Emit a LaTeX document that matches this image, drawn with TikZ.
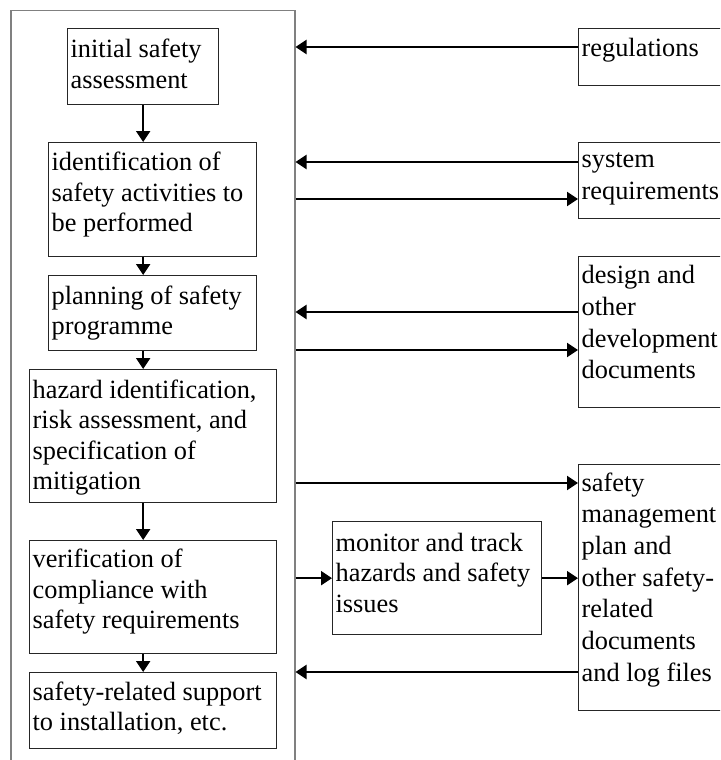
\documentclass[tikz,border=0pt]{standalone}
\usepackage{fontspec}
\setmainfont{Liberation Serif}
\usetikzlibrary{arrows.meta}

\definecolor{boxline}{gray}{0.15}
\definecolor{framegray}{gray}{0.5}

% #1 width, #2 height, #3 line spacing, #4 offset of first baseline, #5 lines
\newcommand\boxlines[5]{%
  \parbox[c][#2][t]{#1}{\fontsize{26.35pt}{#3}\selectfont
    \parindent=0pt\leftskip=3pt\rightskip=0pt plus 1fil
    \vspace*{\dimexpr#4-0.7\baselineskip\relax}\strut #5}}

\tikzset{
  stage/.style={draw=boxline, line width=1.3pt, inner sep=0pt, anchor=north west},
  frame/.style={draw=framegray, line width=1.5pt, inner sep=0pt, anchor=north west},
  flow/.style={line width=2pt, -{Triangle[length=11pt,width=14pt]}},
}

\begin{document}
\begin{tikzpicture}[x=1pt, y=-1pt]
\clip (0,0) rectangle (720,760);
\fill[white] (0,0) rectangle (720,760);

% process frame
\node[frame, minimum width=284pt, minimum height=800pt] (outer) at (10,10) {};

% process stages
\node[stage] (b1) at (67,28)  {\boxlines{151pt}{76pt}{30.5pt}{29pt}{initial safety\\assessment}};
\node[stage] (b2) at (48,142) {\boxlines{208pt}{114pt}{30.5pt}{28pt}{identification of\\safety activities to\\be performed}};
\node[stage] (b3) at (48,275) {\boxlines{208pt}{75pt}{30.5pt}{28.5pt}{planning of safety\\programme}};
\node[stage] (b4) at (29,369) {\boxlines{247pt}{133pt}{30.5pt}{28.5pt}{hazard identification,\\risk assessment, and\\specification of\\mitigation}};
\node[stage] (b5) at (29,540) {\boxlines{247pt}{113pt}{30.5pt}{27pt}{verification of\\compliance with\\safety requirements}};
\node[stage] (b6) at (29,672) {\boxlines{247pt}{76pt}{30.5pt}{27.5pt}{safety-related support\\to installation, etc.}};

% monitoring
\node[stage] (mon) at (332,521) {\boxlines{209pt}{113pt}{30.5pt}{29.5pt}{monitor and track\\hazards and safety\\issues}};

% documents
\node[stage] (reg) at (578,28)  {\boxlines{170pt}{57pt}{31.7pt}{28pt}{regulations}};
\node[stage] (sys) at (578,142) {\boxlines{170pt}{76pt}{31.7pt}{25pt}{system\\requirements}};
\node[stage] (des) at (578,256) {\boxlines{170pt}{151pt}{31.7pt}{27pt}{design and\\other\\development\\documents}};
\node[stage] (saf) at (578,464) {\boxlines{170pt}{246pt}{31.7pt}{26.5pt}{safety\\management\\plan and\\other safety-\\related\\documents\\and log files}};

% sequence of stages
\draw[flow] (b1.south) -- (b1.south |- b2.north);
\draw[flow] (b2.south -| b1.south) -- (b1.south |- b3.north);
\draw[flow] (b3.south -| b1.south) -- (b1.south |- b4.north);
\draw[flow] (b4.south -| b1.south) -- (b1.south |- b5.north);
\draw[flow] (b5.south -| b1.south) -- (b1.south |- b6.north);

% levels of the exchanges with the documents
\coordinate (l1) at (0,47);
\coordinate (l2) at (0,162);
\coordinate (l3) at (0,199);
\coordinate (l4) at (0,312);
\coordinate (l5) at (0,350);
\coordinate (l6) at (0,483);
\coordinate (l7) at (0,672);

\draw[flow] (reg.west |- l1) -- (outer.east |- l1);
\draw[flow] (sys.west |- l2) -- (outer.east |- l2);
\draw[flow] (outer.east |- l3) -- (sys.west |- l3);
\draw[flow] (des.west |- l4) -- (outer.east |- l4);
\draw[flow] (outer.east |- l5) -- (des.west |- l5);
\draw[flow] (outer.east |- l6) -- (saf.west |- l6);
\draw[flow] (saf.west |- l7) -- (outer.east |- l7);

\draw[flow] (outer.east |- mon.west) -- (mon.west);
\draw[flow] (mon.east) -- (mon.east -| saf.west);
\end{tikzpicture}
\end{document}
